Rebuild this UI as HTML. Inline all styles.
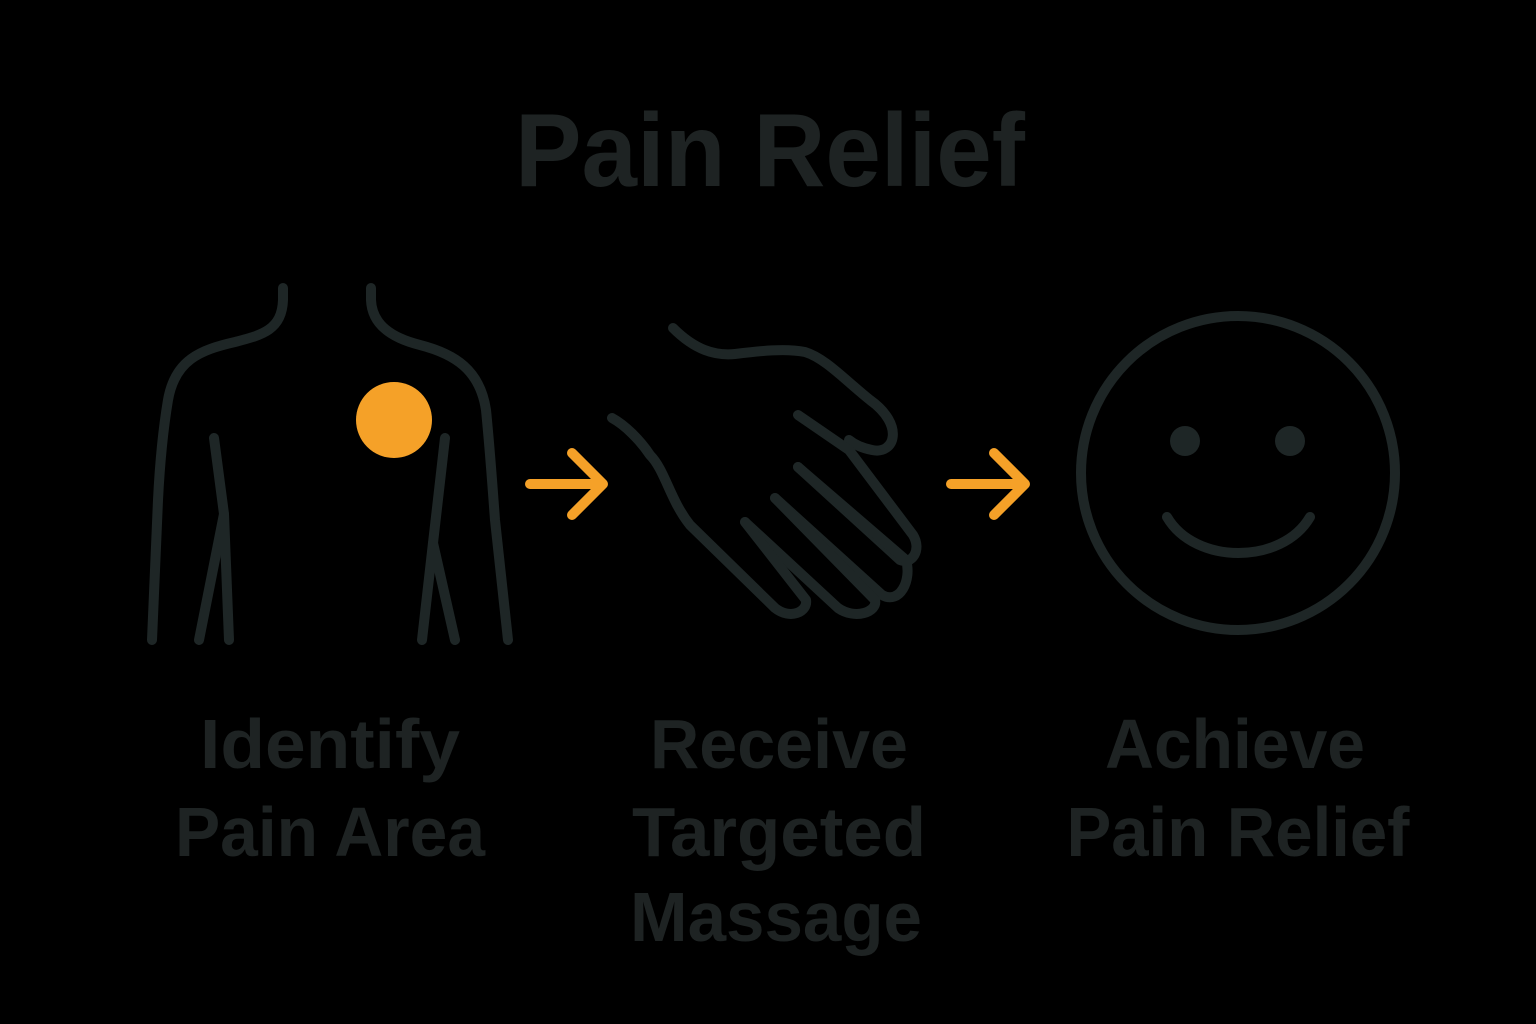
<!DOCTYPE html>
<html><head><style>html,body{margin:0;padding:0;background:#000;}svg{display:block}</style></head>
<body>
<svg width="1536" height="1024" viewBox="0 0 1536 1024" xmlns="http://www.w3.org/2000/svg">
<rect width="1536" height="1024" fill="#000"/>
<g font-family="Liberation Sans, sans-serif" font-weight="bold" fill="#1e2323" text-anchor="middle">
<text x="770" y="186" font-size="104" textLength="510" lengthAdjust="spacingAndGlyphs">Pain Relief</text>
<text x="330" y="768" font-size="70" textLength="260" lengthAdjust="spacingAndGlyphs">Identify</text>
<text x="330" y="856" font-size="70" textLength="310" lengthAdjust="spacingAndGlyphs">Pain Area</text>
<text x="779" y="768" font-size="70" textLength="258" lengthAdjust="spacingAndGlyphs">Receive</text>
<text x="779" y="856" font-size="70" textLength="294" lengthAdjust="spacingAndGlyphs">Targeted</text>
<text x="776" y="941" font-size="70" textLength="292" lengthAdjust="spacingAndGlyphs">Massage</text>
<text x="1235" y="768" font-size="70" textLength="260" lengthAdjust="spacingAndGlyphs">Achieve</text>
<text x="1238" y="856" font-size="70" textLength="343" lengthAdjust="spacingAndGlyphs">Pain Relief</text>
</g>
<g fill="none" stroke="#1e2626" stroke-width="10" stroke-linecap="round" stroke-linejoin="round">
<!-- body -->
<path d="M283 288 L283 300 C282 330 262 335 235 342 C200 350 175 360 168 400 C163 430 160 460 158 500 L152 640"/>
<path d="M371 288 L371 300 C372 325 392 338 420 345 C455 354 480 370 486 410 C490 450 492 480 495 520 L508 640"/>
<path d="M214 438 L224 514 L199 640"/>
<path d="M224 514 L229 640"/>
<path d="M445 438 L433 543 L422 640"/>
<path d="M433 543 L455 640"/>
<!-- hand -->
<path d="M673 328 C695 350 715 356 735 354 C760 351 785 348 805 352 C825 358 845 380 870 400 C905 425 895 455 872 450 C862 448 855 445 849 440"/>
<path d="M798 415 L849 450 L913 535 C922 550 912 565 900 560 L798 467"/>
<path d="M798 467 L906 560 C912 580 900 605 882 595 L775 498"/>
<path d="M775 498 L875 600 C878 612 855 620 838 608 L745 522"/>
<path d="M745 522 L806 600 C808 612 790 620 775 608 L690 525 C670 500 665 470 650 455 C640 440 625 425 612 418"/>
<!-- smiley -->
<circle cx="1238" cy="473" r="157"/>
<path d="M1167 517 C1195 565 1282 565 1310 517"/>
</g>
<circle cx="1185" cy="441" r="15" fill="#1e2626"/>
<circle cx="1290" cy="441" r="15" fill="#1e2626"/>
<circle cx="394" cy="420" r="38" fill="#f5a128"/>
<g fill="none" stroke="#f5a128" stroke-width="10" stroke-linecap="round" stroke-linejoin="round">
<path d="M530 484 L602 484 M572 453 L603 484 L572 515"/>
<path d="M951 484 L1024 484 M994 453 L1025 484 L994 515"/>
</g>
</svg>
</body></html>
